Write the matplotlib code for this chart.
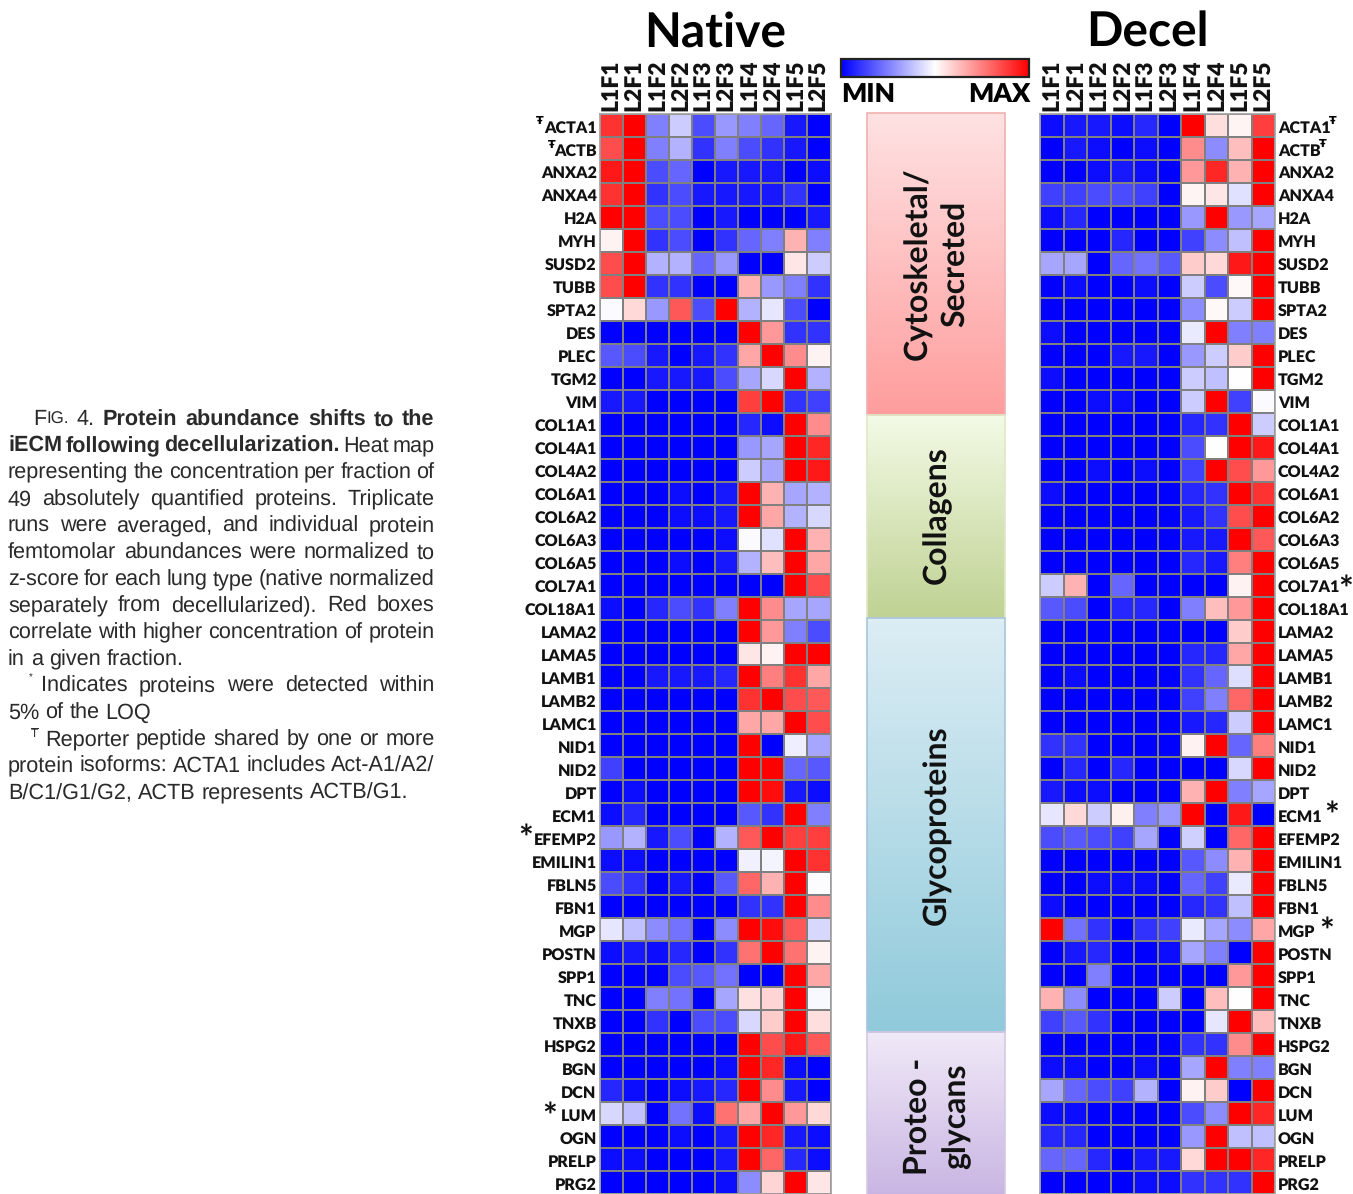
import numpy as np
import matplotlib
matplotlib.use('Agg')
import matplotlib.pyplot as plt
from matplotlib.colors import LinearSegmentedColormap
from matplotlib.patches import Rectangle
from matplotlib.transforms import ScaledTranslation

plt.rcParams['text.hinting'] = 'none'

W, H = 1353, 1194
GRID = '#808080'

fractions = ['L1F1', 'L2F1', 'L1F2', 'L2F2', 'L1F3', 'L2F3', 'L1F4', 'L2F4', 'L1F5', 'L2F5']
proteins = ['ACTA1', 'ACTB', 'ANXA2', 'ANXA4', 'H2A', 'MYH', 'SUSD2', 'TUBB', 'SPTA2', 'DES', 'PLEC', 'TGM2', 'VIM',
            'COL1A1', 'COL4A1', 'COL4A2', 'COL6A1', 'COL6A2', 'COL6A3', 'COL6A5', 'COL7A1', 'COL18A1',
            'LAMA2', 'LAMA5', 'LAMB1', 'LAMB2', 'LAMC1', 'NID1', 'NID2', 'DPT', 'ECM1', 'EFEMP2', 'EMILIN1',
            'FBLN5', 'FBN1', 'MGP', 'POSTN', 'SPP1', 'TNC', 'TNXB', 'HSPG2', 'BGN', 'DCN', 'LUM', 'OGN', 'PRELP', 'PRG2']

# colour, -10 = full blue, 0 = white, 10 = full red
native_values = [
    [8, 10, -5, -2, -7, -4, -5, -6, -9, -10],
    [7, 10, -5, -3, -8, -5, -7, -8, -9, -10],
    [9, 10, -7, -6, -10, -9, -9, -9, -10, -9.5],
    [8, 10, -8, -7, -9, -9, -9, -9, -8, -10],
    [10, 10, -7, -7, -10, -9, -10, -10, -10, -9],
    [0.5, 10, -8, -7, -10, -8, -6, -5, 3, -5],
    [7, 10, -3, -3, -6, -4, -10, -10, 1, -2],
    [7, 10, -8, -8, -10, -10, 3, -4, -5, -8],
    [-0.2, 1.5, -4, 6.5, -7, 10, -3, -1, -7, -10],
    [-10, -10, -10, -10, -10, -10, 10, 4, -8, -8],
    [-6.5, -7, -9, -10, -9, -8, 3.5, 10, 4.5, 0.5],
    [-10, -10, -9, -9, -9, -7, -3.5, -1.5, 10, -3],
    [-9, -9, -10, -10, -10, -10, 7.5, 10, -8, -7.5],
    [-10, -10, -10, -10, -10, -10, -8.5, -9.5, 10, 4.5],
    [-10, -10, -10, -10, -10, -10, -4, -3.5, 10, 8.5],
    [-10, -10, -10, -10, -10, -10, -2, -3.5, 10, 9],
    [-10, -10, -10, -9.5, -10, -9, 10, 3, -3.5, -3],
    [-10, -10, -10, -9.5, -9.5, -9, 10, 3.5, -3, -1.5],
    [-10, -10, -10, -10, -10, -9.5, -0.2, -1.2, 10, 3],
    [-10, -10, -10, -9.5, -10, -9, -3, 2.5, 10, 3.5],
    [-10, -10, -10, -10, -10, -10, -10, -10, 10, 7],
    [-9.5, -10, -8.5, -7, -8, -5, 10, 4.5, -3.5, -3.5],
    [-10, -10, -10, -10, -10, -10, 10, 4, -5, -7],
    [-10, -10, -10, -10, -10, -10, 1, 0.5, 10, 10],
    [-10, -10, -9, -9, -9, -8.5, 10, 5, 8, 3.5],
    [-10, -10, -10, -10, -10, -10, 8, 10, 7, 6.5],
    [-10, -10, -10, -10, -10, -10, 3.5, 3.5, 10, 7],
    [-10, -10, -10, -10, -10, -10, 10, -10, -0.7, -3.5],
    [-7.5, -10, -10, -10, -10, -10, 10, 10, -6, -6.5],
    [-10, -9.5, -10, -10, -10, -10, 10, 9.5, -9, -9.5],
    [-9.5, -8.5, -10, -10, -10, -10, -6.5, -8, 10, -5],
    [-4, -3, -9, -7, -10, -3, 6.5, 10, 7.5, 7.5],
    [-9.5, -9.5, -10, -10, -10, -10, -0.6, -0.4, 10, 8],
    [-7, -8, -10, -9, -10, -6.5, 6, 3, 10, -0.1],
    [-10, -10, -10, -10, -10, -10, -8, -8, 10, 4.5],
    [-1, -2.5, -4.5, -5.5, -10, -4.5, 10, 9.5, 6.5, -1.5],
    [-9.5, -9, -9.5, -8.5, -10, -8, 5.5, 10, 5.5, 0.5],
    [-10, -10, -10, -7, -6.5, -5.5, -10, -10, 10, 3.5],
    [-10, -10, -5, -5.5, -10, -3.5, 1.2, 1.7, 10, -0.3],
    [-10, -10, -8, -10, -7, -7, -1.5, 2, 10, 1.3],
    [-10, -10, -10, -10, -10, -10, 10, 7, 9, 6.5],
    [-10, -10, -10, -10, -10, -9.5, 10, 8.5, -9.5, -10],
    [-8.5, -9.5, -10, -9.5, -9, -8.5, 10, 4.5, -9, -10],
    [-1.5, -2.5, -10, -5.5, -9.5, 5.5, 3.5, 10, 4, 1.5],
    [-10, -10, -10, -9.5, -10, -9, 10, 8.5, -9, -9.5],
    [-9.5, -9.5, -10, -10, -10, -9, 10, 6, -8.5, -9.5],
    [-10, -10, -10, -10, -10, -9.5, -4.5, 1.7, 10, 1],
]

decel_values = [
    [-9.5, -9, -9, -9.5, -8.5, -10, 10, 1.3, 0.4, 7.5],
    [-10, -9, -9.5, -10, -9.5, -10, 4.5, -4.5, 2.5, 10],
    [-10, -10, -9.5, -9, -9.5, -10, 4, 8.5, 3, 10],
    [-7.5, -7.5, -7, -7, -7.5, -10, 0.4, 1, -1.2, 10],
    [-9.5, -8.5, -10, -10, -10, -10, -4, 10, -4, -3.5],
    [-10, -10, -10, -8.5, -10, -10, -7.5, -4.5, -2.5, 10],
    [-3.5, -3.5, -10, -6, -5.5, -6.5, 2, 1.5, 9, 10],
    [-10, -9.5, -10, -10, -9.5, -10, -2, -7, 0.3, 10],
    [-10, -10, -10, -10, -10, -10, -4.5, 0.3, -2, 10],
    [-9.5, -10, -10, -10, -10, -10, -0.8, 10, -5, -5],
    [-10, -10, -10, -9, -9, -10, -4, -2, 2, 10],
    [-9.5, -10, -10, -10, -10, -10, -2, -2.5, 0, 10],
    [-10, -10, -9.5, -9.5, -10, -10, -2, 10, -7.5, -0.2],
    [-10, -10, -10, -10, -10, -10, -8.5, -8, 10, -2],
    [-10, -10, -10, -10, -10, -10, -7, 0, 10, 9],
    [-10, -10, -9.5, -10, -9.5, -10, -7.5, 10, 7, 4],
    [-9.5, -10, -10, -10, -10, -10, -8.5, -8, 10, 8],
    [-10, -10, -10, -10, -10, -10, -9, -8, 7, 10],
    [-10, -10, -10, -10, -10, -10, -9, -9, 10, 6.5],
    [-10, -10, -10, -10, -10, -10, -8.5, -9, 5, 10],
    [-2, 3, -10, -6, -10, -10, -10, -10, 0.5, 10],
    [-6.5, -7, -10, -8.5, -8.5, -10, -5, 2.5, 4, 10],
    [-10, -10, -10, -10, -10, -10, -10, -10, 2, 10],
    [-10, -10, -10, -10, -10, -10, -8.5, -8.5, 3.5, 10],
    [-10, -9.5, -10, -10, -10, -10, -8, -6, -1.3, 10],
    [-10, -10, -10, -10, -10, -10, -7.5, -5, 6, 10],
    [-10, -10, -10, -10, -10, -10, -9, -8.5, -2, 10],
    [-8, -8, -10, -10, -10, -10, 0.5, 10, -6, 5],
    [-10, -8.5, -10, -8.5, -10, -10, -10, -10, -1.5, 10],
    [-9, -9.5, -9.5, -10, -10, -10, 3, 10, -5, -3.5],
    [-1, 1.5, -2, 0.6, -5, -4, 10, -10, 9, -10],
    [-7, -6.5, -7, -7.5, -3.5, -10, -1.8, -10, 6, 10],
    [-10, -10, -10, -10, -10, -10, -6.5, -4.5, 3, 10],
    [-10, -10, -9.5, -9.5, -9.5, -10, -6, -7.5, -0.8, 10],
    [-9.5, -10, -10, -10, -10, -10, -8.5, -8, -2.5, 10],
    [10, -5.5, -8, -10, -8, -7.5, -0.8, -3.5, -4.5, 3.5],
    [-10, -9, -8.5, -10, -10, -9.5, -3.5, -5, -10, 10],
    [-10, -10, -5, -10, -10, -10, -10, -10, 4, 10],
    [3, -4.5, -10, -10, -10, -2, -10, 2.5, 0.05, 10],
    [-7.5, -6.5, -8, -10, -10, -10, -10, -1, 10, 2.5],
    [-10, -10, -10, -10, -10, -10, -8, -8, 4.5, 10],
    [-9.5, -9.5, -10, -10, -9.5, -10, -3.5, 10, -5, -5],
    [-3.5, -6, -7, -7.5, -3, -10, 0.5, 2, -10, 10],
    [-9.5, -9.5, -10, -10, -10, -10, -7, -4.5, 10, 8.5],
    [-8.5, -8.5, -10, -10, -10, -10, -4, 10, -2.5, -2.5],
    [-6, -6, -8.5, -10, -9, -9, 1.5, 10, 10, 8.5],
    [-10, -10, -10, -10, -9.5, -9.5, -8, -8, -8, 10],
]

# label, side text position, gradient colours
group_labels = ['Cytoskeletal/\nSecreted', 'Collagens', 'Glycoproteins', 'Proteo -\nglycans']
group_edges = [113, 415, 618, 1032, 1196]
group_tops = ['#fee2e3', '#f3fae6', '#dcedf4', '#f0e9f7']
group_bottoms = ['#ff9d9d', '#c0d293', '#90cadb', '#c9b5e3']
group_borders = ['#f0b0b0', '#e0e8c8', '#a8c4e0', '#d4c8e4']
group_shift = [0, -1, 0, 2]

caption_size = 15.6


def pixel_axes(fig, x0, y0, x1, y1):
    return fig.add_axes([x0 / W, 1 - y1 / H, (x1 - x0) / W, (y1 - y0) / H])


def draw_heatmap(fig, box, values, side):
    ax = pixel_axes(fig, *box)
    ax.pcolormesh(np.array(values), cmap='bwr', vmin=-10, vmax=10, edgecolors=GRID, linewidth=1.4)
    ax.set_xlim(0, len(fractions))
    ax.set_ylim(len(proteins), 0)
    ax.set_xticks(np.arange(len(fractions)) + 0.5)
    ax.set_xticklabels(fractions, rotation=90, fontsize=16.5, fontweight='heavy', family='Lato', color='#111111')
    ax.set_yticks(np.arange(len(proteins)) + 0.5)
    ax.set_yticklabels(proteins, fontsize=11.6, fontweight='heavy', family='Lato', color='#111111')
    ax.xaxis.tick_top()
    if side == 'right':
        ax.yaxis.tick_right()
    ax.tick_params(length=0, pad=2)
    nudge = ScaledTranslation(0, -1 / 100, fig.dpi_scale_trans)
    for label in ax.get_yticklabels():
        label.set_transform(label.get_transform() + nudge)
    for spine in ax.spines.values():
        spine.set_color('#a0a0a0')
        spine.set_linewidth(1.2)
    return ax


fig = plt.figure(figsize=(W / 100, H / 100), dpi=100)

page = fig.add_axes([0, 0, 1, 1])
page.set_xlim(0, W)
page.set_ylim(H, 0)
page.axis('off')

draw_heatmap(fig, (599.5, 114, 830.5, 1194), native_values, 'left')
draw_heatmap(fig, (1040, 114, 1275, 1194), decel_values, 'right')

# titles
page.text(715, 33, 'Native', ha='center', va='center', fontsize=34.5, fontweight='bold', family='Lato')
page.text(1147, 33, 'Decel', ha='center', va='center', fontsize=34.5, fontweight='bold', family='Lato')

# colour key
gradient = np.linspace(-1, 1, 256).reshape(1, -1)
page.imshow(gradient, cmap='bwr', aspect='auto', extent=(841, 1029, 77, 59))
page.add_patch(Rectangle((841, 59), 188, 18, fill=False, edgecolor='#222222', lw=1.6))
page.text(841, 94, 'MIN', ha='left', va='center', fontsize=19, fontweight='heavy', family='Lato')
page.text(1030, 94, 'MAX', ha='right', va='center', fontsize=19, fontweight='heavy', family='Lato')

# protein class bands
for i, label in enumerate(group_labels):
    y0, y1 = group_edges[i], group_edges[i + 1]
    band = LinearSegmentedColormap.from_list('band', [group_tops[i], group_bottoms[i]])
    page.imshow(np.linspace(0, 1, 128).reshape(-1, 1), cmap=band, aspect='auto', extent=(867, 1004.5, y1, y0))
    page.add_patch(Rectangle((867, y0), 137.5, y1 - y0, fill=False, edgecolor=group_borders[i], lw=1.2))
    page.text(937, (y0 + y1) / 2 + group_shift[i], label, rotation=90,
              ha='center', va='center', multialignment='center', fontsize=23, fontweight='bold',
              family='Lato', linespacing=1.38, color='#111111')

page.set_xlim(0, W)
page.set_ylim(H, 0)

# footnote marks next to the protein names
for x, y in [(540, 121), (552, 145), (1333, 121), (1323, 144)]:
    page.text(x, y, 'Ŧ', ha='center', va='center', fontsize=8, fontweight='bold', family='DejaVu Sans')
for x, y in [(526, 840), (550, 1118), (1346, 591), (1332, 817), (1327, 933)]:
    page.text(x, y, '*', ha='center', va='center', fontsize=25, fontweight='bold', family='Lato', color='#111111')


# caption, justified by hand word by word
def words(s, style='r'):
    return [[(x, style)] for x in s.split()]


styles = {
    'r': dict(family='Liberation Sans', fontsize=caption_size),
    'b': dict(family='Liberation Sans', fontsize=caption_size, fontweight='bold'),
    's': dict(family='Liberation Sans', fontsize=caption_size * 0.78),
}
caption_lines = [
    (33, True, [[('F', 'r'), ('IG.', 's')], [('4.', 'r')]] + words('Protein abundance shifts to the', 'b')),
    (8, True, words('iECM following decellularization.', 'b') + words('Heat map')),
    (8, True, words('representing the concentration per fraction of')),
    (8, True, words('49 absolutely quantified proteins. Triplicate')),
    (8, True, words('runs were averaged, and individual protein')),
    (8, True, words('femtomolar abundances were normalized to')),
    (8, True, words('z-score for each lung type (native normalized')),
    (8, True, words('separately from decellularized). Red boxes')),
    (8, True, words('correlate with higher concentration of protein')),
    (8, False, words('in a given fraction.')),
    (41, True, words('Indicates proteins were detected within')),
    (8, False, words('5% of the LOQ')),
    (45, True, words('Reporter peptide shared by one or more')),
    (8, True, words('protein isoforms: ACTA1 includes Act-A1/A2/')),
    (8, False, words('B/C1/G1/G2, ACTB represents ACTB/G1.')),
]

renderer = fig.canvas.get_renderer()


def text_width(text, style):
    t = page.text(0, 0, text, **styles[style])
    w = t.get_window_extent(renderer).width
    t.remove()
    return w


for n, (x0, justify, line) in enumerate(caption_lines):
    y = 417.5 + n * 26.67
    widths = [sum(text_width(t, st) for t, st in w) for w in line]
    gap = (434.5 - x0 - sum(widths)) / (len(line) - 1) if justify else 6
    x = x0
    for w, width in zip(line, widths):
        cx = x
        for t, st in w:
            page.text(cx, y, t, ha='left', va='center_baseline', color='#2a2a2a', **styles[st])
            cx += text_width(t, st)
        x += width + gap

page.text(31, 678, '*', ha='center', va='center', fontsize=7, family='Liberation Sans', color='#2a2a2a')
page.text(34, 734, 'T', ha='center', va='center', fontsize=8.5, family='Liberation Sans', color='#2a2a2a')
page.plot([30.5, 37.5], [727.5, 727.5], color='#2a2a2a', lw=0.7)

fig.savefig('out.png', dpi=100)
